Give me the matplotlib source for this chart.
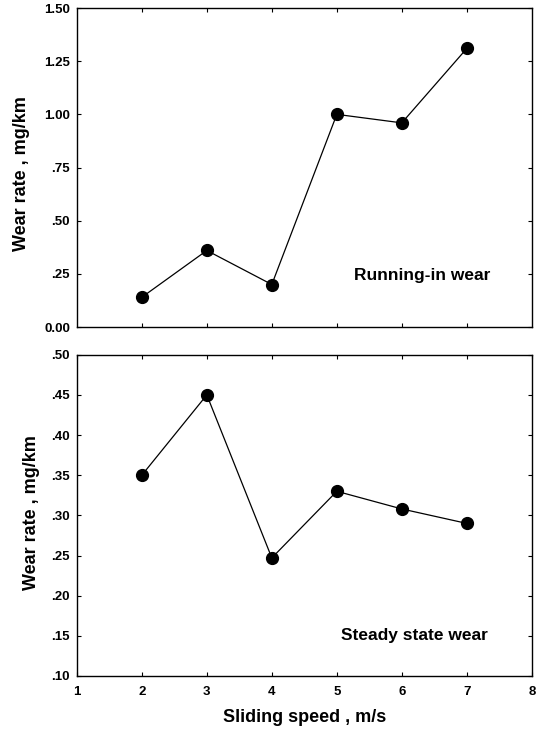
import matplotlib
matplotlib.use("Agg")
import matplotlib.pyplot as plt
from matplotlib.ticker import FuncFormatter

plt.rcParams['font.family'] = ['Liberation Sans', 'DejaVu Sans']

speed = [2, 3, 4, 5, 6, 7]
running_in = [0.14, 0.36, 0.20, 1.00, 0.96, 1.31]
steady_state = [0.35, 0.45, 0.247, 0.33, 0.308, 0.29]

top_yticks = [0.0, 0.25, 0.5, 0.75, 1.0, 1.25, 1.5]
bot_yticks = [0.10, 0.15, 0.20, 0.25, 0.30, 0.35, 0.40, 0.45, 0.50]
xticks = [1, 2, 3, 4, 5, 6, 7, 8]


def fmt(v, decimals):
    s = f"{v:.{decimals}f}"
    if 0 < v < 1:
        s = s[1:]
    return s


fig = plt.figure(figsize=(5.41, 7.30), dpi=100)
ax1 = fig.add_axes([0.142, 0.552, 0.841, 0.437])
ax2 = fig.add_axes([0.142, 0.074, 0.841, 0.440])

for ax in (ax1, ax2):
    ax.set_xlim(1, 8)
    ax.tick_params(direction='in', length=3, width=0.8, top=True, right=True,
                   labelsize=9.5, pad=5)
    ax.tick_params(axis='x', pad=7)
    for sp in ax.spines.values():
        sp.set_linewidth(1.0)

ax1.plot(speed, running_in, color='black', lw=0.9, marker='o', ms=8.5)
ax1.set_ylim(0, 1.5)
ax1.set_yticks(top_yticks)
ax1.yaxis.set_major_formatter(FuncFormatter(lambda v, p: fmt(v, 2)))
ax1.set_xticks(speed)
ax1.tick_params(labelbottom=False)
ax1.set_ylabel('Wear rate , mg/km', fontsize=13, fontweight='bold')
ax1.yaxis.set_label_coords(-0.103, 0.48)
ax1.text(6.31, 0.24, 'Running-in wear', fontsize=12.5, fontweight='bold',
         ha='center', va='center')

ax2.plot(speed, steady_state, color='black', lw=0.9, marker='o', ms=8.5)
ax2.set_ylim(0.1, 0.5)
ax2.set_yticks(bot_yticks)
ax2.yaxis.set_major_formatter(FuncFormatter(lambda v, p: fmt(v, 2)))
ax2.set_xticks(xticks)
ax2.set_ylabel('Wear rate , mg/km', fontsize=13, fontweight='bold')
ax2.yaxis.set_label_coords(-0.082, 0.51)
ax2.set_xlabel('Sliding speed , m/s', fontsize=13, fontweight='bold', labelpad=8)
ax2.text(6.2, 0.151, 'Steady state wear', fontsize=12.5, fontweight='bold',
         ha='center', va='center')

for ax in (ax1, ax2):
    for lab in ax.get_yticklabels() + ax.get_xticklabels():
        lab.set_fontweight('bold')

fig.savefig('out.png', dpi=100)
